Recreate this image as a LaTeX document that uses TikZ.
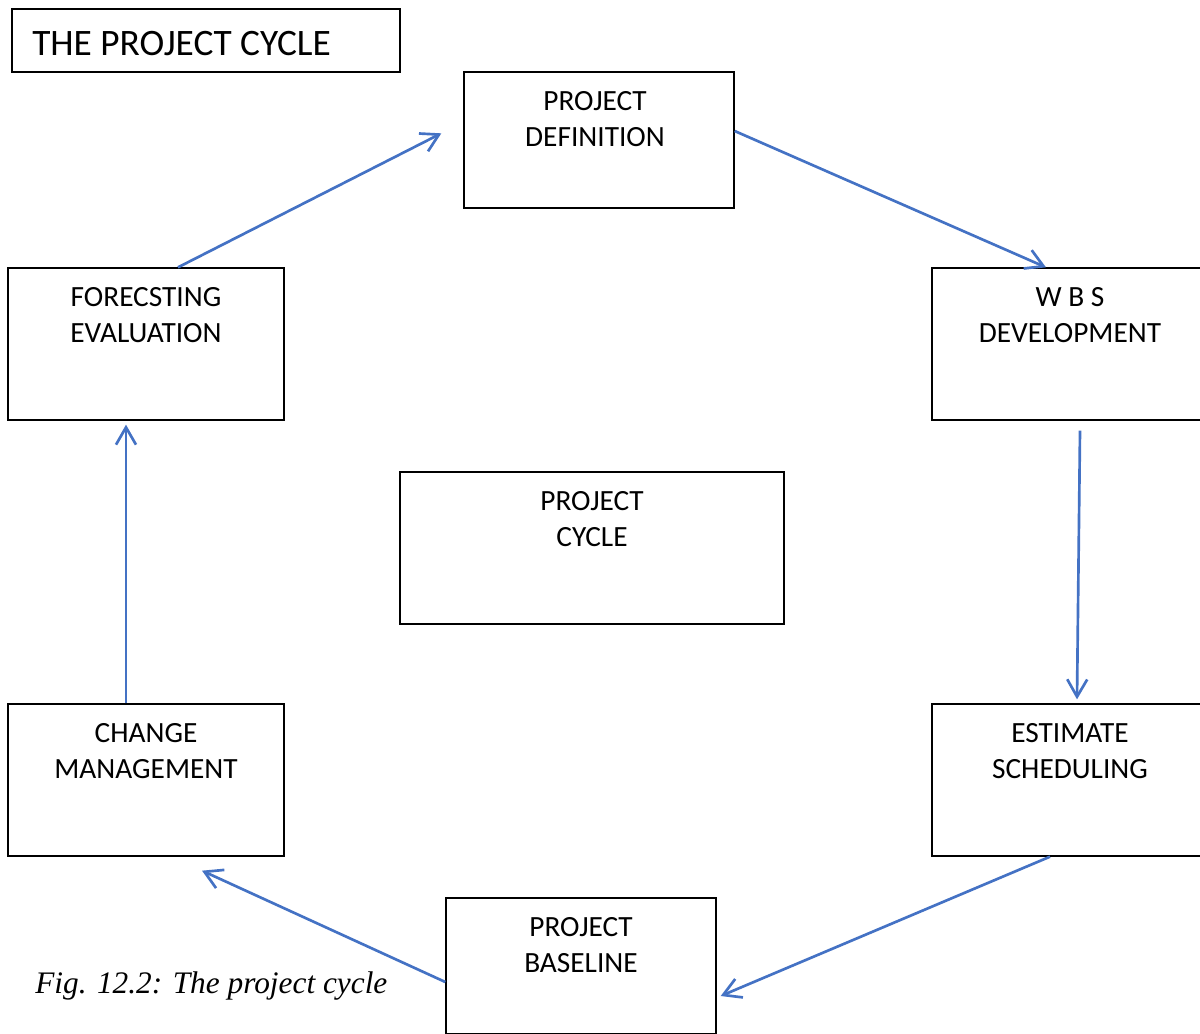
\documentclass[tikz,border=0pt]{standalone}
\usepackage{fontspec}
\setmainfont{Carlito}
\newfontfamily\captionfont{Liberation Serif}
\usetikzlibrary{positioning,arrows.meta}
\definecolor{cycleblue}{RGB}{68,114,196}
\newcommand*{\xMax}{1200}
\newcommand*{\yMax}{1033}

\begin{document}
\begin{tikzpicture}[x=0.75pt,y=-0.75pt,
	    stagebox/.style={draw, line width=1pt, inner sep=0pt, minimum width=207pt, minimum height=114pt},
	    smallbox/.style={stagebox, minimum width=202.5pt, minimum height=102pt},
	    boxtext/.style={align=center, inner sep=0pt, font=\fontsize{22}{27}\selectfont},
	    flow/.style={draw=cycleblue, line width=2pt, -{Straight Barb[length=13pt,width=15pt,line width=2pt]}}]
	\path[use as bounding box, clip] (0,0) rectangle (\xMax,\yMax);

	\node[draw, line width=1pt, minimum width=291pt, minimum height=47.25pt] (title) at (206,40.5) {};
	\node[anchor=base west, inner sep=0pt, font=\fontsize{28}{33}\selectfont] (titletext) at (32,55) {THE PROJECT CYCLE};

	\node[smallbox] (definition) at (599,140) {};
	\node[stagebox] (forecast) at (146,344) {};
	\node[stagebox] (wbs) at (1070,344) {};
	\node[stagebox, minimum width=288pt] (cycle) at (592,548) {};
	\node[stagebox] (change) at (146,780) {};
	\node[stagebox] (estimate) at (1070,780) {};
	\node[smallbox] (baseline) at (581,966) {};

	\node[boxtext, below=15pt of definition.north, xshift=-3pt] (definitiontext) {PROJECT\\DEFINITION};
	\node[boxtext, below=15pt of forecast.north] (forecasttext) {FORECSTING\\EVALUATION};
	\node[boxtext, below=15pt of wbs.north] (wbstext) {W B S\\DEVELOPMENT};
	\node[boxtext, below=15pt of cycle.north] (cycletext) {PROJECT\\CYCLE};
	\node[boxtext, below=15pt of change.north] (changetext) {CHANGE\\MANAGEMENT};
	\node[boxtext, below=15pt of estimate.north] (estimatetext) {ESTIMATE\\SCHEDULING};
	\node[boxtext, below=15pt of baseline.north] (baselinetext) {PROJECT\\BASELINE};

	\draw[flow] ([xshift=24pt]forecast.north) -- ([xshift=-16.5pt,yshift=5pt]definition.west);
	\draw[flow] ([yshift=6.75pt]definition.east) -- ([xshift=-18pt]wbs.north);
	\draw[flow] ([xshift=7.5pt,yshift=-7.5pt]wbs.south) -- ([xshift=5.25pt,yshift=3pt]estimate.north);
	\draw[flow] ([xshift=-15pt]estimate.south) -- ([xshift=3pt,yshift=-22.5pt]baseline.east);
	\draw[flow] ([yshift=-12pt]baseline.west) -- ([xshift=42pt,yshift=-10.5pt]change.south);
	\draw[flow] ([xshift=-15pt]change.north) -- ([xshift=-15pt,yshift=-3pt]forecast.south);

	\node[anchor=base west, inner sep=0pt, font=\captionfont\itshape\fontsize{23.5}{27}\selectfont] (caption) at (35,993) {Fig. 12.2: The project cycle};
\end{tikzpicture}
\end{document}
